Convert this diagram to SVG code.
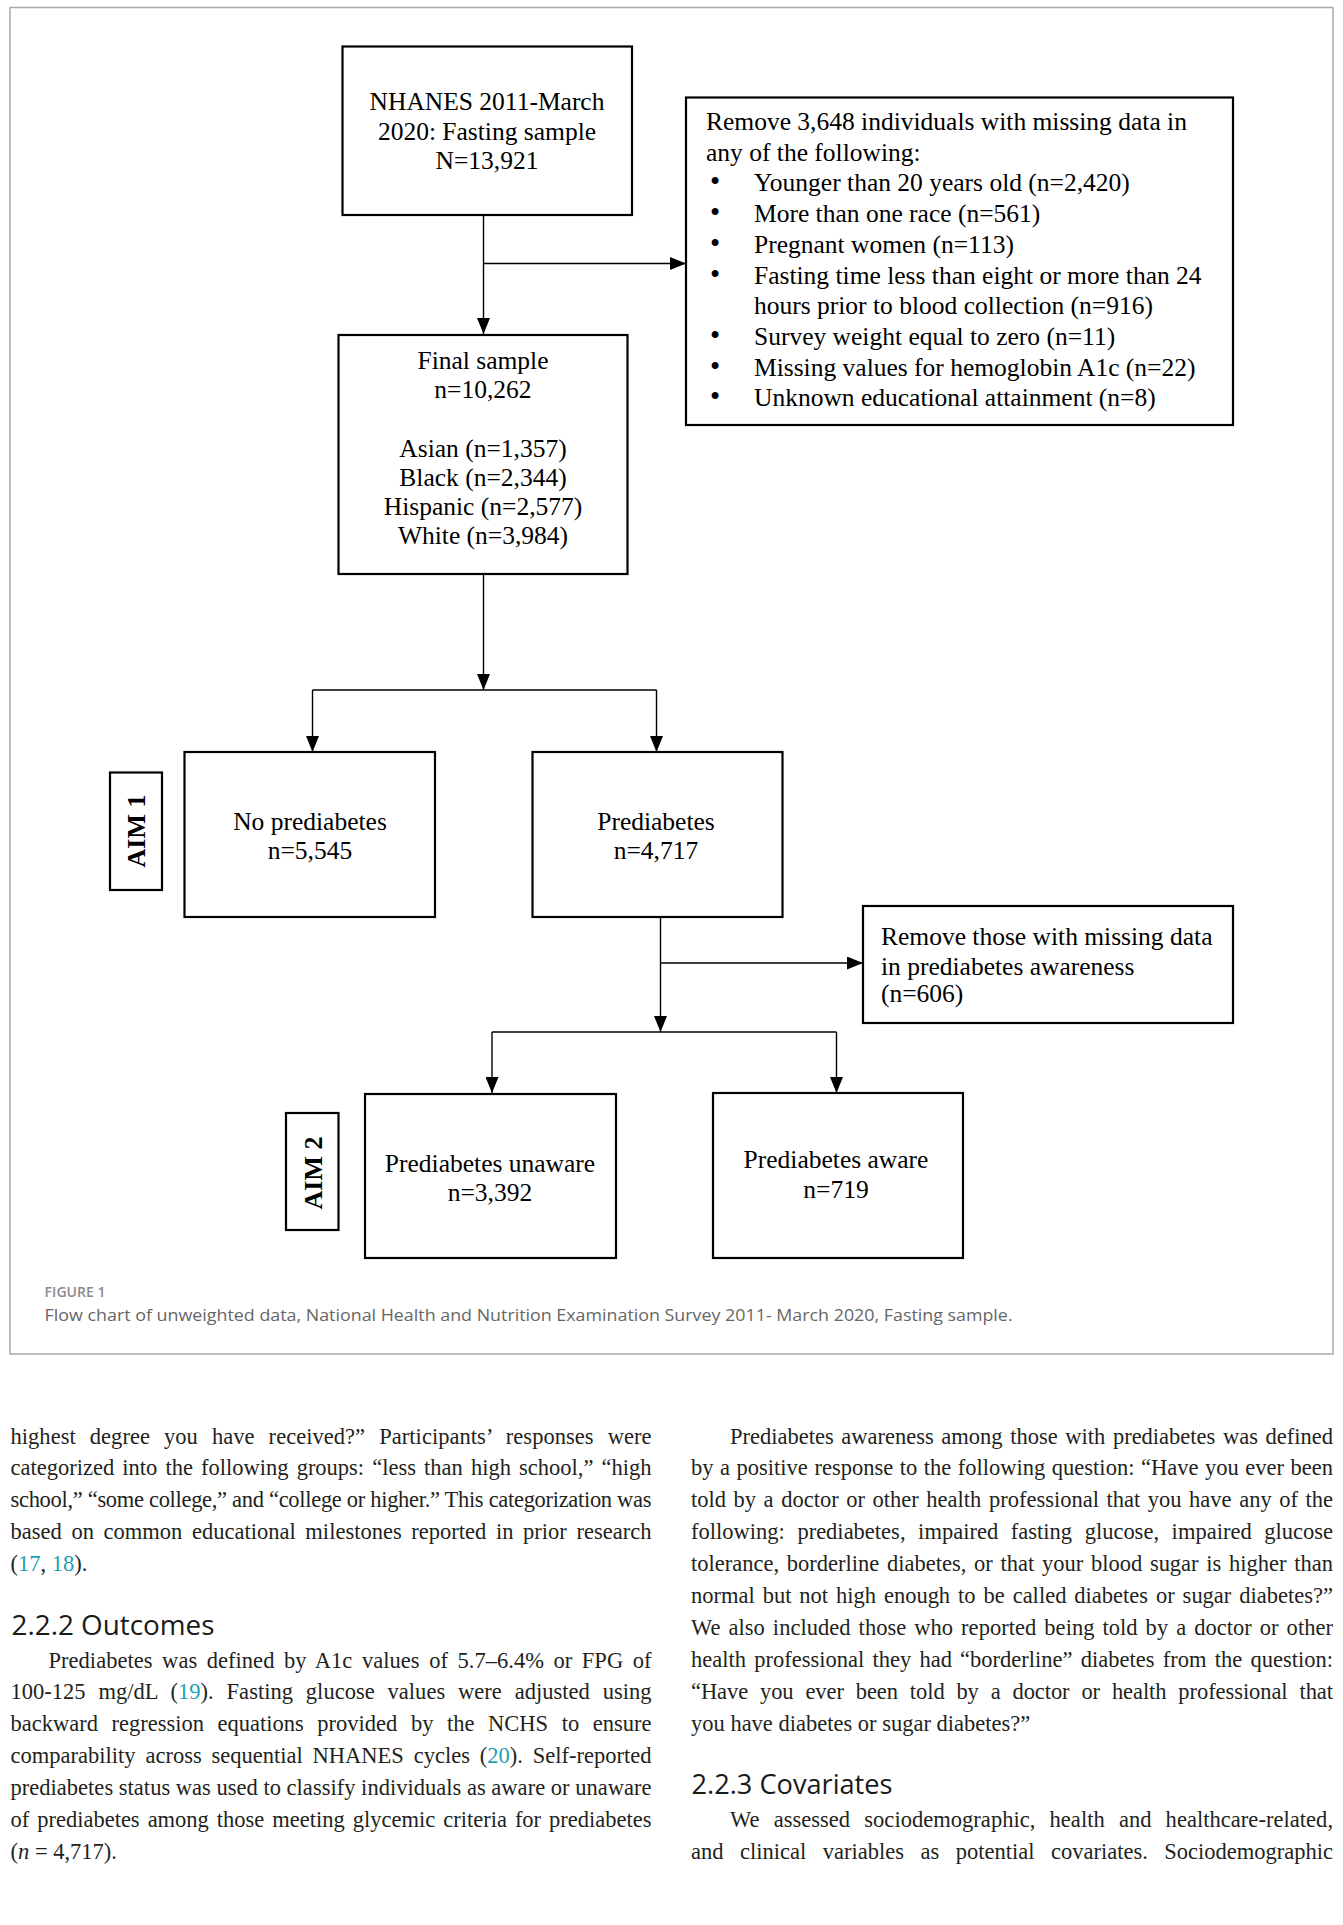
<svg xmlns="http://www.w3.org/2000/svg" width="1343" height="1925" viewBox="0 0 1343 1925">
<style>
.box{fill:#fff;stroke:#000;stroke-width:2.2}
.ln{fill:none;stroke:#000;stroke-width:1.4}
.fc{font-family:"Liberation Serif","Times New Roman",serif;font-size:25.5px;fill:#000}
.mid{text-anchor:middle}
.aim{font-weight:bold;font-size:26px}
.bul{font-size:29px}
.body{font-family:"Liberation Serif","Times New Roman",serif;font-size:22.5px;fill:#231f20}
.ref{fill:#1d9fb4}
.head{font-family:"Open Sans","Liberation Sans",sans-serif;font-size:27.5px;font-weight:500;fill:#1a1a1a}
.capl{font-family:"Open Sans","Liberation Sans",sans-serif;font-size:13.5px;font-weight:600;fill:#8a8a8a}
.cap{font-family:"Open Sans","Liberation Sans",sans-serif;font-size:17px;fill:#666}
</style>
<defs>
<marker id="ah" markerUnits="userSpaceOnUse" markerWidth="16" markerHeight="13" refX="16" refY="6.5" orient="auto">
<path d="M0,0 L16,6.5 L0,13 z" fill="#000"/>
</marker>
</defs>
<rect x="0" y="0" width="1343" height="1925" fill="#fff"/>
<rect x="10" y="7.5" width="1323" height="1346.5" fill="none" stroke="#aaa" stroke-width="1.5"/>

<g id="connectors">
<path class="ln" d="M483.5,215 V334" marker-end="url(#ah)"/>
<path class="ln" d="M483.5,263.5 H686" marker-end="url(#ah)"/>
<path class="ln" d="M483.5,574 V690" marker-end="url(#ah)"/>
<path class="ln" d="M312.5,690 H656.5"/>
<path class="ln" d="M312.5,690 V752" marker-end="url(#ah)"/>
<path class="ln" d="M656.5,690 V752" marker-end="url(#ah)"/>
<path class="ln" d="M660.5,917 V1032" marker-end="url(#ah)"/>
<path class="ln" d="M660.5,963 H863" marker-end="url(#ah)"/>
<path class="ln" d="M492,1032 H836.5"/>
<path class="ln" d="M492,1032 V1093" marker-end="url(#ah)"/>
<path class="ln" d="M836.5,1032 V1093" marker-end="url(#ah)"/>
</g>

<g id="nhanes">
<rect class="box" x="342.5" y="46.5" width="289.5" height="168.5"/>
<text class="fc mid" x="487" y="110">NHANES 2011-March</text>
<text class="fc mid" x="487" y="139.5">2020: Fasting sample</text>
<text class="fc mid" x="487" y="168.5">N=13,921</text>
</g>

<g id="remove1">
<rect class="box" x="686" y="97.5" width="547" height="327.5"/>
<text class="fc" x="706" y="130">Remove 3,648 individuals with missing data in</text>
<text class="fc" x="706" y="160.7">any of the following:</text>
<text class="fc" y="191.4"><tspan class="bul" x="710">•</tspan><tspan x="754">Younger than 20 years old (n=2,420)</tspan></text>
<text class="fc" y="222.1"><tspan class="bul" x="710">•</tspan><tspan x="754">More than one race (n=561)</tspan></text>
<text class="fc" y="252.8"><tspan class="bul" x="710">•</tspan><tspan x="754">Pregnant women (n=113)</tspan></text>
<text class="fc" y="283.5"><tspan class="bul" x="710">•</tspan><tspan x="754">Fasting time less than eight or more than 24</tspan></text>
<text class="fc" x="754" y="314.2">hours prior to blood collection  (n=916)</text>
<text class="fc" y="344.9"><tspan class="bul" x="710">•</tspan><tspan x="754">Survey weight equal to zero (n=11)</tspan></text>
<text class="fc" y="375.6"><tspan class="bul" x="710">•</tspan><tspan x="754">Missing values for hemoglobin A1c (n=22)</tspan></text>
<text class="fc" y="406.3"><tspan class="bul" x="710">•</tspan><tspan x="754">Unknown educational  attainment  (n=8)</tspan></text>
</g>

<g id="final">
<rect class="box" x="338.5" y="335" width="289" height="239"/>
<text class="fc mid" x="483" y="369">Final sample</text>
<text class="fc mid" x="483" y="398">n=10,262</text>
<text class="fc mid" x="483" y="457">Asian (n=1,357)</text>
<text class="fc mid" x="483" y="486">Black (n=2,344)</text>
<text class="fc mid" x="483" y="515">Hispanic (n=2,577)</text>
<text class="fc mid" x="483" y="544">White (n=3,984)</text>
</g>

<g id="aim1">
<rect class="box" x="110" y="772.5" width="52" height="117.5"/>
<text class="fc mid aim" transform="translate(145,831) rotate(-90)" x="0" y="0">AIM 1</text>
</g>

<g id="noprediabetes">
<rect class="box" x="184.5" y="752" width="250.5" height="165"/>
<text class="fc mid" x="310" y="830">No prediabetes</text>
<text class="fc mid" x="310" y="859">n=5,545</text>
</g>

<g id="prediabetes">
<rect class="box" x="532.5" y="752" width="250" height="165"/>
<text class="fc mid" x="656" y="830">Prediabetes</text>
<text class="fc mid" x="656" y="859">n=4,717</text>
</g>

<g id="remove2">
<rect class="box" x="863" y="906" width="370" height="117"/>
<text class="fc" x="881" y="945">Remove those with missing data</text>
<text class="fc" x="881" y="975">in prediabetes  awareness</text>
<text class="fc" x="881" y="1002">(n=606)</text>
</g>

<g id="aim2">
<rect class="box" x="286" y="1113" width="52.5" height="117"/>
<text class="fc mid aim" transform="translate(321.5,1173) rotate(-90)" x="0" y="0">AIM 2</text>
</g>

<g id="unaware">
<rect class="box" x="365" y="1094" width="251" height="164"/>
<text class="fc mid" x="490" y="1171.5">Prediabetes unaware</text>
<text class="fc mid" x="490" y="1200.5">n=3,392</text>
</g>

<g id="aware">
<rect class="box" x="713" y="1093" width="250" height="165"/>
<text class="fc mid" x="836" y="1168">Prediabetes aware</text>
<text class="fc mid" x="836" y="1198">n=719</text>
</g>

<text class="capl" x="44.6" y="1296.5" textLength="61" lengthAdjust="spacingAndGlyphs">FIGURE 1</text>
<text class="cap" x="44.6" y="1320.5" textLength="968" lengthAdjust="spacingAndGlyphs">Flow chart of unweighted data, National Health and Nutrition Examination Survey 2011- March 2020, Fasting sample.</text>

<g class="body">
<text x="10.5" y="1443.5" word-spacing="8.4" textLength="641" lengthAdjust="spacing">highest degree you have received?” Participants’ responses were</text>
<text x="10.5" y="1475.4" word-spacing="2.5" textLength="641" lengthAdjust="spacing">categorized into the following groups: “less than high school,” “high</text>
<text x="10.5" y="1507.3" textLength="641" lengthAdjust="spacing">school,” “some college,” and “college or higher.” This categorization was</text>
<text x="10.5" y="1539.2" word-spacing="4" textLength="641" lengthAdjust="spacing">based on common educational milestones reported in prior research</text>
<text x="10.5" y="1571.1">(<tspan class="ref">17</tspan>, <tspan class="ref">18</tspan>).</text>
<text x="48.5" y="1667.5" word-spacing="3.9" textLength="603" lengthAdjust="spacing">Prediabetes was defined by A1c values of 5.7–6.4% or FPG of</text>
<text x="10.5" y="1699.4" word-spacing="7.2" textLength="641" lengthAdjust="spacing">100-125 mg/dL (<tspan class="ref">19</tspan>). Fasting glucose values were adjusted using</text>
<text x="10.5" y="1731.3" word-spacing="8" textLength="641" lengthAdjust="spacing">backward regression equations provided by the NCHS to ensure</text>
<text x="10.5" y="1763.2" word-spacing="4.2" textLength="641" lengthAdjust="spacing">comparability across sequential NHANES cycles (<tspan class="ref">20</tspan>). Self-reported</text>
<text x="10.5" y="1795.1" textLength="641" lengthAdjust="spacing">prediabetes status was used to classify individuals as aware or unaware</text>
<text x="10.5" y="1827" word-spacing="2.4" textLength="641" lengthAdjust="spacing">of prediabetes among those meeting glycemic criteria for prediabetes</text>
<text x="10.5" y="1858.9">(<tspan font-style="italic">n</tspan> = 4,717).</text>

<text x="730" y="1443.5" word-spacing="2" textLength="603" lengthAdjust="spacing">Prediabetes awareness among those with prediabetes was defined</text>
<text x="691" y="1475.4" word-spacing="0.9" textLength="642" lengthAdjust="spacing">by a positive response to the following question: “Have you ever been</text>
<text x="691" y="1507.3" word-spacing="1.9" textLength="642" lengthAdjust="spacing">told by a doctor or other health professional that you have any of the</text>
<text x="691" y="1539.2" word-spacing="7" textLength="642" lengthAdjust="spacing">following: prediabetes, impaired fasting glucose, impaired glucose</text>
<text x="691" y="1571.1" word-spacing="2.1" textLength="642" lengthAdjust="spacing">tolerance, borderline diabetes, or that your blood sugar is higher than</text>
<text x="691" y="1603" word-spacing="2.3" textLength="642" lengthAdjust="spacing">normal but not high enough to be called diabetes or sugar diabetes?”</text>
<text x="691" y="1634.9" word-spacing="2.3" textLength="642" lengthAdjust="spacing">We also included those who reported being told by a doctor or other</text>
<text x="691" y="1666.8" word-spacing="2.6" textLength="642" lengthAdjust="spacing">health professional they had “borderline” diabetes from the question:</text>
<text x="691" y="1698.7" word-spacing="6.3" textLength="642" lengthAdjust="spacing">“Have you ever been told by a doctor or health professional that</text>
<text x="691" y="1730.6">you have diabetes or sugar diabetes?”</text>
<text x="730" y="1826.7" word-spacing="8.5" textLength="603" lengthAdjust="spacing">We assessed sociodemographic, health and healthcare-related,</text>
<text x="691" y="1858.6" word-spacing="10.9" textLength="642" lengthAdjust="spacing">and clinical variables as potential covariates. Sociodemographic</text>
</g>
<text class="head" x="11.5" y="1635" textLength="203" lengthAdjust="spacingAndGlyphs">2.2.2 Outcomes</text>
<text class="head" x="691.5" y="1794" textLength="201" lengthAdjust="spacingAndGlyphs">2.2.3 Covariates</text>
</svg>
